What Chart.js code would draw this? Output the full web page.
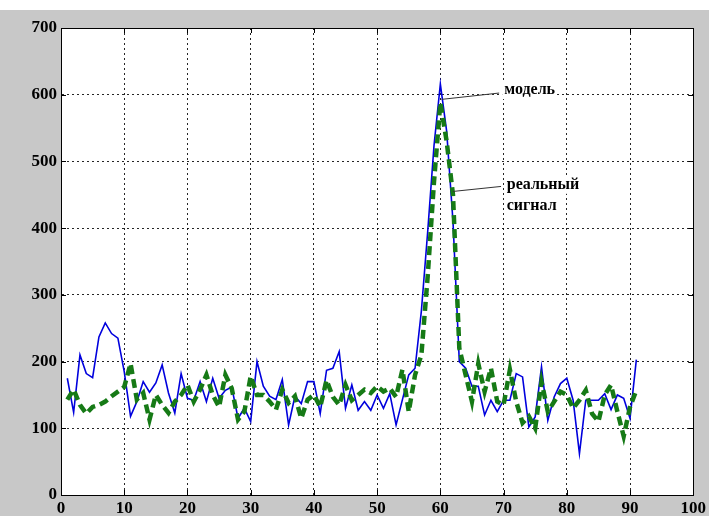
<!DOCTYPE html>
<html><head><meta charset="utf-8">
<script src="https://cdn.jsdelivr.net/npm/chart.js@4"></script>
<style>
html,body{margin:0;padding:0;background:#fff;width:709px;height:516px;overflow:hidden}
#wrap{position:absolute;left:0;top:10px;width:709px;height:506px;background:#c8c8c8}
canvas{display:block}
</style></head><body>
<div id="wrap"><canvas id="c" width="709" height="506"></canvas></div>
<script>
const xTicks = [0,10,20,30,40,50,60,70,80,90,100];
const yTicks = [0,100,200,300,400,500,600,700];

const modelValues = [175,124,210,182,176,237,258,242,235,185,
  118,140,170,154,168,195,153,123,182,145,
  142,170,140,175,145,157,162,115,130,110,
  200,163,148,143,173,105,148,137,170,170,
  122,187,190,215,130,165,127,140,127,150,
  130,152,105,143,180,190,276,395,524,616,
  545,410,200,190,163,163,120,142,125,142,
  142,182,177,102,117,192,112,147,167,175,
  142,62,142,142,142,152,128,150,145,115,203];

const realValues = [143,158,135,122,132,135,140,148,155,162,
  197,143,153,113,150,135,123,140,150,165,
  140,158,180,150,132,180,160,113,125,178,
  150,150,140,128,158,138,148,115,143,150,
  132,172,147,135,165,142,150,158,153,163,
  155,160,147,188,125,180,210,328,470,588,
  530,450,220,180,140,197,155,190,140,135,
  188,140,108,118,100,170,125,140,155,150,
  130,142,157,122,110,150,165,125,88,132,157];

const sampleIndex = modelValues.map((_, i) => i + 1);

const seriesNames = ['модель', 'реальный сигнал'];
const noteModel = { text: ['модель'], at: [70.1, 607], from: [60.2, 593], to: [69.3, 602.5] };
const noteReal = { text: ['реальный', 'сигнал'], at: [70.5, 465], from: [62.0, 455], to: [69.6, 462.5] };

const FONT = "'Liberation Serif','Times New Roman',serif";

const areaBg = {
  id: 'areaBg',
  beforeDraw(chart) {
    const ctx = chart.ctx, a = chart.chartArea;
    ctx.save();
    ctx.fillStyle = '#fff';
    ctx.fillRect(a.left, a.top, a.right - a.left, a.bottom - a.top);
    ctx.restore();
  }
};

const framePlugin = {
  id: 'frame',
  afterDraw(chart) {
    const ctx = chart.ctx, a = chart.chartArea;
    const xs = chart.scales.x, ys = chart.scales.y;
    ctx.save();
    ctx.strokeStyle = '#000';
    ctx.lineWidth = 1;
    ctx.setLineDash([]);
    ctx.strokeRect(Math.round(a.left) + 0.5, Math.round(a.top) + 0.5,
      Math.round(a.right - a.left), Math.round(a.bottom - a.top));
    ctx.beginPath();
    xTicks.forEach(t => {
      const px = Math.round(xs.getPixelForValue(t)) + 0.5;
      ctx.moveTo(px, a.bottom); ctx.lineTo(px, a.bottom - 5);
      ctx.moveTo(px, a.top); ctx.lineTo(px, a.top + 5);
    });
    yTicks.forEach(t => {
      const py = Math.round(ys.getPixelForValue(t)) + 0.5;
      ctx.moveTo(a.left, py); ctx.lineTo(a.left + 5, py);
      ctx.moveTo(a.right, py); ctx.lineTo(a.right - 5, py);
    });
    ctx.stroke();

    [noteModel, noteReal].forEach(n => {
      ctx.strokeStyle = '#333';
      ctx.lineWidth = 1;
      ctx.beginPath();
      ctx.moveTo(xs.getPixelForValue(n.from[0]), ys.getPixelForValue(n.from[1]));
      ctx.lineTo(xs.getPixelForValue(n.to[0]), ys.getPixelForValue(n.to[1]));
      ctx.stroke();
      ctx.font = 'bold 16px ' + FONT;
      ctx.textBaseline = 'middle';
      ctx.textAlign = 'left';
      const x0 = xs.getPixelForValue(n.at[0]);
      const y0 = ys.getPixelForValue(n.at[1]);
      n.text.forEach((t, i) => {
        const w = ctx.measureText(t).width;
        const yy = y0 + i * 21;
        ctx.fillStyle = '#fff';
        ctx.fillRect(x0 - 2, yy - 9, w + 4, 18);
        ctx.fillStyle = '#000';
        ctx.fillText(t, x0, yy);
      });
    });
    ctx.restore();
  }
};

new Chart(document.getElementById('c'), {
  type: 'line',
  data: {
    datasets: [
      {
        label: seriesNames[1],
        data: sampleIndex.map((x, i) => ({ x, y: realValues[i] })),
        borderColor: '#167a16',
        borderWidth: 4.5,
        borderDash: [9, 5],
        pointRadius: 0,
        tension: 0,
        fill: false,
        order: 0
      },
      {
        label: seriesNames[0],
        data: sampleIndex.map((x, i) => ({ x, y: modelValues[i] })),
        borderColor: '#0000dd',
        borderWidth: 1.6,
        pointRadius: 0,
        tension: 0,
        fill: false,
        order: 1
      }
    ]
  },
  options: {
    responsive: false,
    animation: false,
    devicePixelRatio: 1,
    layout: { padding: { top: 18, right: 15, left: 0, bottom: 0 } },
    plugins: { legend: { display: false }, tooltip: { enabled: false } },
    scales: {
      x: {
        type: 'linear', min: 0, max: 100,
        afterBuildTicks: s => { s.ticks = xTicks.map(v => ({ value: v })); },
        afterFit: s => { s.height = 21; },
        grid: { color: 'rgba(0,0,0,0.85)', lineWidth: 1, drawTicks: false },
        border: { display: true, color: '#000', dash: [2, 3] },
        ticks: { padding: 3, color: '#000', font: { family: FONT, weight: 'bold', size: 17 }, maxRotation: 0 }
      },
      y: {
        type: 'linear', min: 0, max: 700,
        afterBuildTicks: s => { s.ticks = yTicks.map(v => ({ value: v })); },
        afterFit: s => { s.width = 61; },
        grid: { color: 'rgba(0,0,0,0.85)', lineWidth: 1, drawTicks: false },
        border: { display: true, color: '#000', dash: [2, 3] },
        ticks: { padding: 4, color: '#000', font: { family: FONT, weight: 'bold', size: 17 } }
      }
    }
  },
  plugins: [areaBg, framePlugin]
});
</script>
</body></html>
